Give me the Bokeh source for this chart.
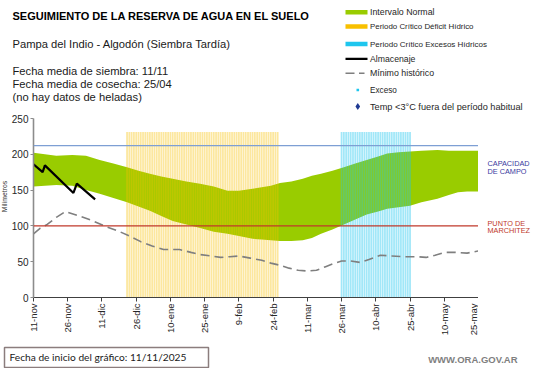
from math import pi
from bokeh.plotting import figure
from bokeh.layouts import column, row
from bokeh.models import Range1d, FixedTicker, Span, Label
from bokeh.embed import file_html
from bokeh.resources import INLINE

# ---------------- data (days since 11-nov) ----------------
tick_days = [0, 15, 30, 45, 60, 75, 90, 105, 120, 135, 150, 165, 180, 195]
tick_labels = ["11-nov", "26-nov", "11-dic", "26-dic", "10-ene", "25-ene", "9-feb",
               "24-feb", "11-mar", "26-mar", "10-abr", "25-abr", "10-may", "25-may"]
y_ticks = [0, 50, 100, 150, 200, 250]

band_days = [0, 5, 10, 17, 23, 29, 35, 41, 46, 51, 56, 61, 67, 73, 79, 85, 90, 96, 100,
             104, 108, 113, 118, 122, 126, 131, 136, 141, 146, 151, 155, 160, 165, 170,
             177, 182, 186, 190, 195]
band_upper = [202, 200, 198, 199, 198, 192, 187, 182, 177, 173, 169, 166, 162, 159, 155,
              149, 149, 152, 154, 156, 160, 162, 166, 170, 173, 177, 182, 187, 192, 197,
              201, 203, 204, 205, 206, 205, 205, 205, 205]
band_lower = [155, 156, 157, 156, 150, 145, 139, 133, 127, 121, 114, 107, 102, 97, 92,
              89, 86, 82, 81, 80, 79, 79, 80, 83, 89, 95, 102, 109, 116, 120, 124, 126,
              128, 133, 138, 143, 147, 148, 148]

alm_days = [0, 4, 5, 17.5, 19, 27]
alm_vals = [186, 175, 184.5, 146, 159, 137]

min_days = [0, 3, 6, 10, 14, 20, 26, 31, 37, 42, 47, 52, 57, 64, 69, 73, 78, 82, 86, 90,
            95, 100, 104, 108, 112, 116, 120, 124, 128, 132, 135, 139, 143, 147, 152,
            157, 162, 168, 172, 176, 180, 185, 190, 195]
min_vals = [89, 97, 102, 112, 120, 114, 107, 100, 93, 86, 78, 72, 67, 67, 63, 60, 58, 56,
            57, 58, 55, 52, 48, 45, 41, 38, 37, 38, 43, 48, 51, 51, 49, 53, 59, 58, 57,
            57, 56, 59, 63, 63, 62, 65]

deficit_days = list(range(41, 108))   # Periodo Crítico Déficit Hídrico
exceso_days = list(range(135, 166))   # Periodo Crítico Excesos Hídricos
period_top = 231
capacidad_campo = 212
punto_marchitez = 100

legend_labels = ["Intervalo Normal", "Periodo Crítico Déficit Hídrico",
                 "Periodo Crítico Excesos Hídricos", "Almacenaje", "Mínimo histórico",
                 "Exceso", "Temp <3°C fuera del período habitual"]

# ---------------- colours / layout ----------------
GREEN, YELLOW, CYAN = "#99cc00", "#f8c000", "#1ec6ee"
GRAY, BLUE_LINE, RED = "#7f7f7f", "#7e9fd4", "#c0392b"
FONT = "Liberation Sans"
W = 541
HEAD_H = 113            # header block: y 0..113
MAIN_TOP, MAIN_BOT = 113, 340
STRIP = 8               # left strip holding the y-axis title
FL, FR, FT, FB = 33, 478, 118, 297
MAIN_H = MAIN_BOT - MAIN_TOP


def blank(width, height, x0, x1, y0, y1):
    f = figure(width=width, height=height, x_range=Range1d(x0, x1),
               y_range=Range1d(y0, y1), output_backend="svg", toolbar_location=None,
               x_axis_location=None, y_axis_location=None, min_border=0)
    f.outline_line_color = None
    f.grid.visible = False
    return f


def text(f, x, y, s, size, color="black", style="normal", font=FONT, align="left",
         angle=0):
    f.add_layout(Label(x=x, y=y, text=s, text_font=font, text_font_size=size,
                       text_font_style=style, text_color=color, text_align=align,
                       text_baseline="middle", angle=angle))


# ---------------- header (pixel coordinates, y downward) ----------------
head = blank(W, HEAD_H, 0, W, HEAD_H, 0)
text(head, 12, 15, "SEGUIMIENTO DE LA RESERVA DE AGUA EN EL SUELO", "11px", style="bold")
text(head, 12, 43.5, "Pampa del Indio - Algodón (Siembra Tardía)", "11.2px", "#1a1a1a")
text(head, 12, 70.5, "Fecha media de siembra: 11/11", "11.2px", "#1a1a1a")
text(head, 12, 83.5, "Fecha media de cosecha: 25/04", "11.2px", "#1a1a1a")
text(head, 12, 96.5, "(no hay datos de heladas)", "11.2px", "#1a1a1a")

row_y = [11.7, 26.0, 43.5, 58.3, 72.7, 89.5, 106.0]
row_size = ["8.8px", "7.9px", "8px", "8.7px", "8.8px", "8.2px", "9.2px"]
for s, yy, fs in zip(legend_labels, row_y, row_size):
    text(head, 369.5, yy, s, fs, "#262626")
sw_l, sw_r = 345, 367
head.quad(left=[sw_l] * 3, right=[sw_r] * 3,
          top=[row_y[0] - 2.2, row_y[1] - 2.2, row_y[2] - 2.2],
          bottom=[row_y[0] + 2.2, row_y[1] + 2.2, row_y[2] + 2.2],
          fill_color=[GREEN, YELLOW, CYAN], line_color=None)
head.line([sw_l, sw_r], [row_y[3], row_y[3]], line_color="black", line_width=2.2)
head.line([345, 354], [row_y[4], row_y[4]], line_color=GRAY, line_width=1.6)
head.line([358.5, 364], [row_y[4], row_y[4]], line_color=GRAY, line_width=1.6)
head.scatter([357.3], [row_y[5]], marker="square", size=2.6, fill_color=CYAN, line_color=None)
head.scatter([357.3], [row_y[6]], marker="diamond", size=7, fill_color="#1f3a93", line_color=None)

# ---------------- y-axis title strip ----------------
strip = blank(STRIP, MAIN_H, 0, STRIP, MAIN_BOT, MAIN_TOP)
text(strip, 4.2, 212, "Milímetros", "6.8px", "#333333", align="center", angle=pi / 2)

# ---------------- main chart ----------------
p = figure(width=FR - STRIP, height=MAIN_H, x_range=Range1d(0, 195),
           y_range=Range1d(0, 250), output_backend="svg", toolbar_location=None,
           min_border_left=FL - STRIP, min_border_right=0,
           min_border_top=FT - MAIN_TOP, min_border_bottom=MAIN_BOT - FB)
p.outline_line_color = None
p.grid.visible = False

p.varea(x=band_days, y1=band_lower, y2=band_upper, fill_color=GREEN, fill_alpha=1)
p.vbar(x=deficit_days, width=0.78, top=period_top, bottom=0,
       fill_color=YELLOW, fill_alpha=0.38, line_color=None)
p.vbar(x=exceso_days, width=0.78, top=period_top, bottom=0,
       fill_color=CYAN, fill_alpha=0.42, line_color=None)
p.line(min_days, min_vals, line_color=GRAY, line_width=1.6, line_dash="9 5")
p.line(alm_days, alm_vals, line_color="black", line_width=2.2)
p.add_layout(Span(location=capacidad_campo, dimension="width", line_color=BLUE_LINE, line_width=1.2))
p.add_layout(Span(location=punto_marchitez, dimension="width", line_color=RED, line_width=1.1))

p.yaxis.ticker = FixedTicker(ticks=y_ticks)
p.yaxis.axis_line_color = "#8c8c8c"
p.yaxis.axis_line_width = 1.6
p.yaxis.major_tick_line_color = "#8c8c8c"
p.yaxis.major_tick_out = 3
p.yaxis.major_tick_in = 0
p.yaxis.minor_tick_line_color = None
p.yaxis.major_label_text_font = FONT
p.yaxis.major_label_text_font_size = "10px"
p.yaxis.major_label_text_color = "#262626"
p.yaxis.major_label_standoff = 2

p.xaxis.ticker = FixedTicker(ticks=tick_days)
p.xaxis.major_label_overrides = {d: t for d, t in zip(tick_days, tick_labels)}
p.xaxis.major_label_orientation = pi / 2
p.xaxis.axis_line_color = "#404040"
p.xaxis.axis_line_width = 1.2
p.xaxis.major_tick_line_color = "#404040"
p.xaxis.major_tick_out = 4
p.xaxis.major_tick_in = 0
p.xaxis.minor_tick_line_color = None
p.xaxis.major_label_text_font = FONT
p.xaxis.major_label_text_font_size = "9.5px"
p.xaxis.major_label_text_color = "#262626"
p.xaxis.major_label_standoff = 2

# ---------------- right labels (pixel coordinates) ----------------
side = blank(W - FR, MAIN_H, FR, W, MAIN_BOT, MAIN_TOP)
text(side, 487, 169.5, "CAPACIDAD", "7.3px", "#3a3aa0")
text(side, 487, 180, "DE  CAMPO", "7.3px", "#3a3aa0")
text(side, 487, 246, "PUNTO  DE", "7.3px", RED)
text(side, 487, 255.5, "MARCHITEZ", "7.3px", RED)

# ---------------- footer (pixel coordinates) ----------------
foot = blank(W, 368 - MAIN_BOT, 0, W, 368, MAIN_BOT)
foot.quad(left=[4], right=[208], top=[347], bottom=[367], fill_color="white",
          line_color="#8b7d7d", line_width=1.5)
text(foot, 9, 356.5, "Fecha de inicio del gráfico:  11/11/2025", "10.2px", "#1a1a1a", font="Lato")
text(foot, 517, 359, "WWW.ORA.GOV.AR", "9.5px", "#7f7f7f", style="bold", align="right")

layout = column(head, row(strip, p, side, spacing=0), foot, spacing=0)

html = file_html(layout, INLINE)
html = html.replace("<head>", "<head><style>html,body{margin:0;padding:0;overflow:hidden}</style>", 1)
open("out.html", "w").write(html)
